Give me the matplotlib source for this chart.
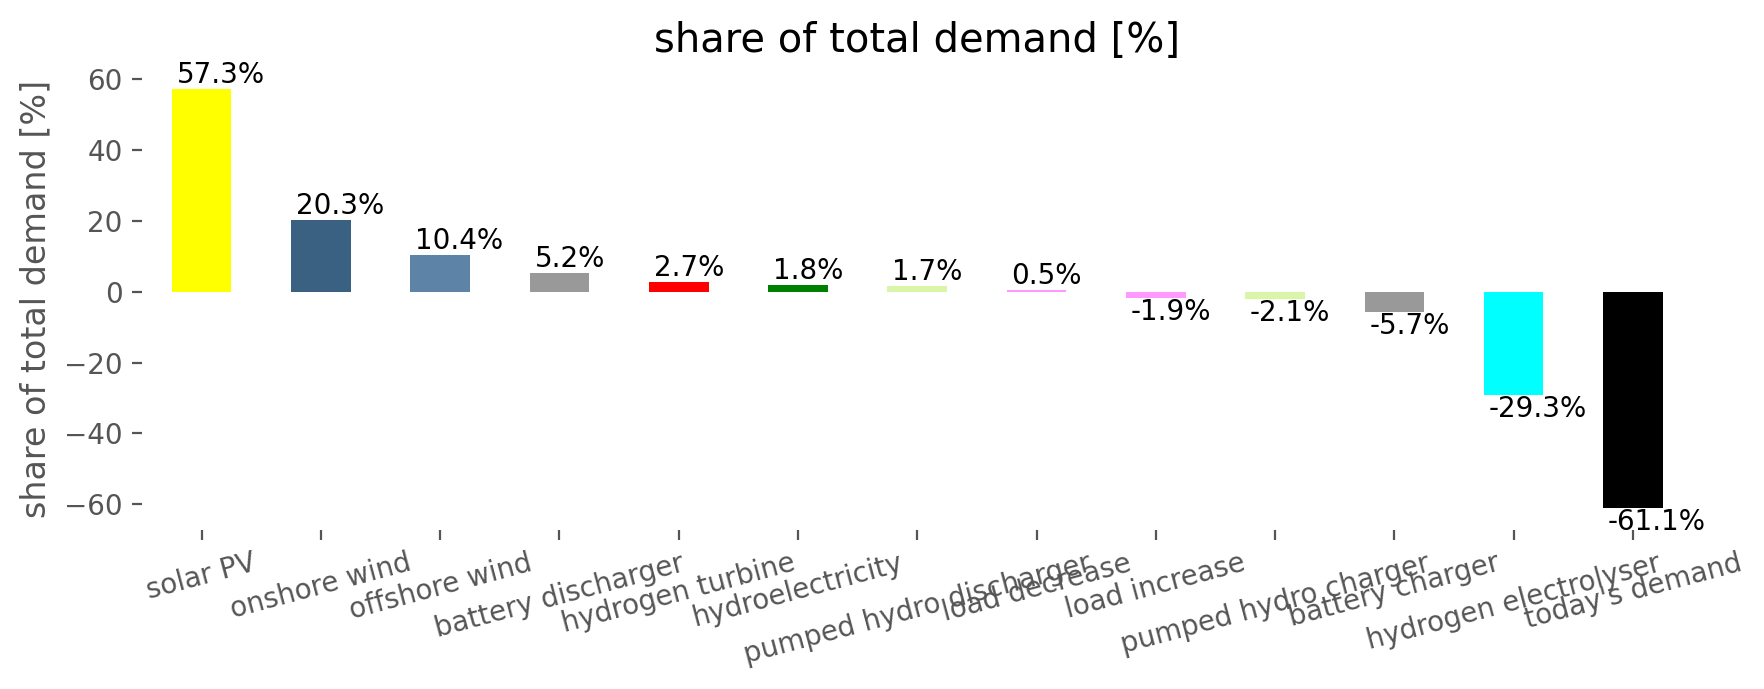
import matplotlib
matplotlib.use("Agg")
import matplotlib.pyplot as plt

categories = ["solar PV", "onshore wind", "offshore wind", "battery discharger",
              "hydrogen turbine", "hydroelectricity", "pumped hydro discharger",
              "load decrease", "load increase", "pumped hydro charger",
              "battery charger", "hydrogen electrolyser", "today's demand"]
values = [57.3, 20.3, 10.4, 5.2, 2.7, 1.8, 1.7, 0.5, -1.9, -2.1, -5.7, -29.3, -61.1]
colors = ["#ffff00", "#3b6182", "#5d83a6", "#999999", "#ff0000", "#008000",
          "#d9f5a8", "#ff99ff", "#ff99ff", "#d9f5a8", "#999999", "#00ffff", "#000000"]

fig = plt.figure(figsize=(8.82, 3.445), dpi=200)
ax = fig.add_axes([0.0805, 0.2313, 0.8790, 0.6690])

x = list(range(len(categories)))
bars = ax.bar(x, values, width=0.5, color=colors)
ax.set_xlim(-0.5, len(categories) - 0.5)
ax.set_ylim(min(values) * 1.1, max(values) * 1.1)

for xi, v in zip(x, values):
    ax.text(xi - 0.25 + 0.04, v, f"{v:.1f}%", fontsize=10, color="black",
            ha="left", va="bottom" if v >= 0 else "top")

ax.set_xticks(x)
ax.set_xticklabels(categories, rotation=15, ha="center")
ax.set_yticks([-60, -40, -20, 0, 20, 40, 60])
ax.set_yticklabels(["\u221260", "\u221240", "\u221220", "0", "20", "40", "60"])
ax.tick_params(axis="both", colors="#555555", labelsize=10, length=3.5)
ax.set_ylabel("share of total demand [%]", fontsize=12, color="#555555")
ax.set_title("share of total demand [%]", fontsize=14.4)
for s in ax.spines.values():
    s.set_visible(False)

fig.savefig("out.png", dpi=200)
